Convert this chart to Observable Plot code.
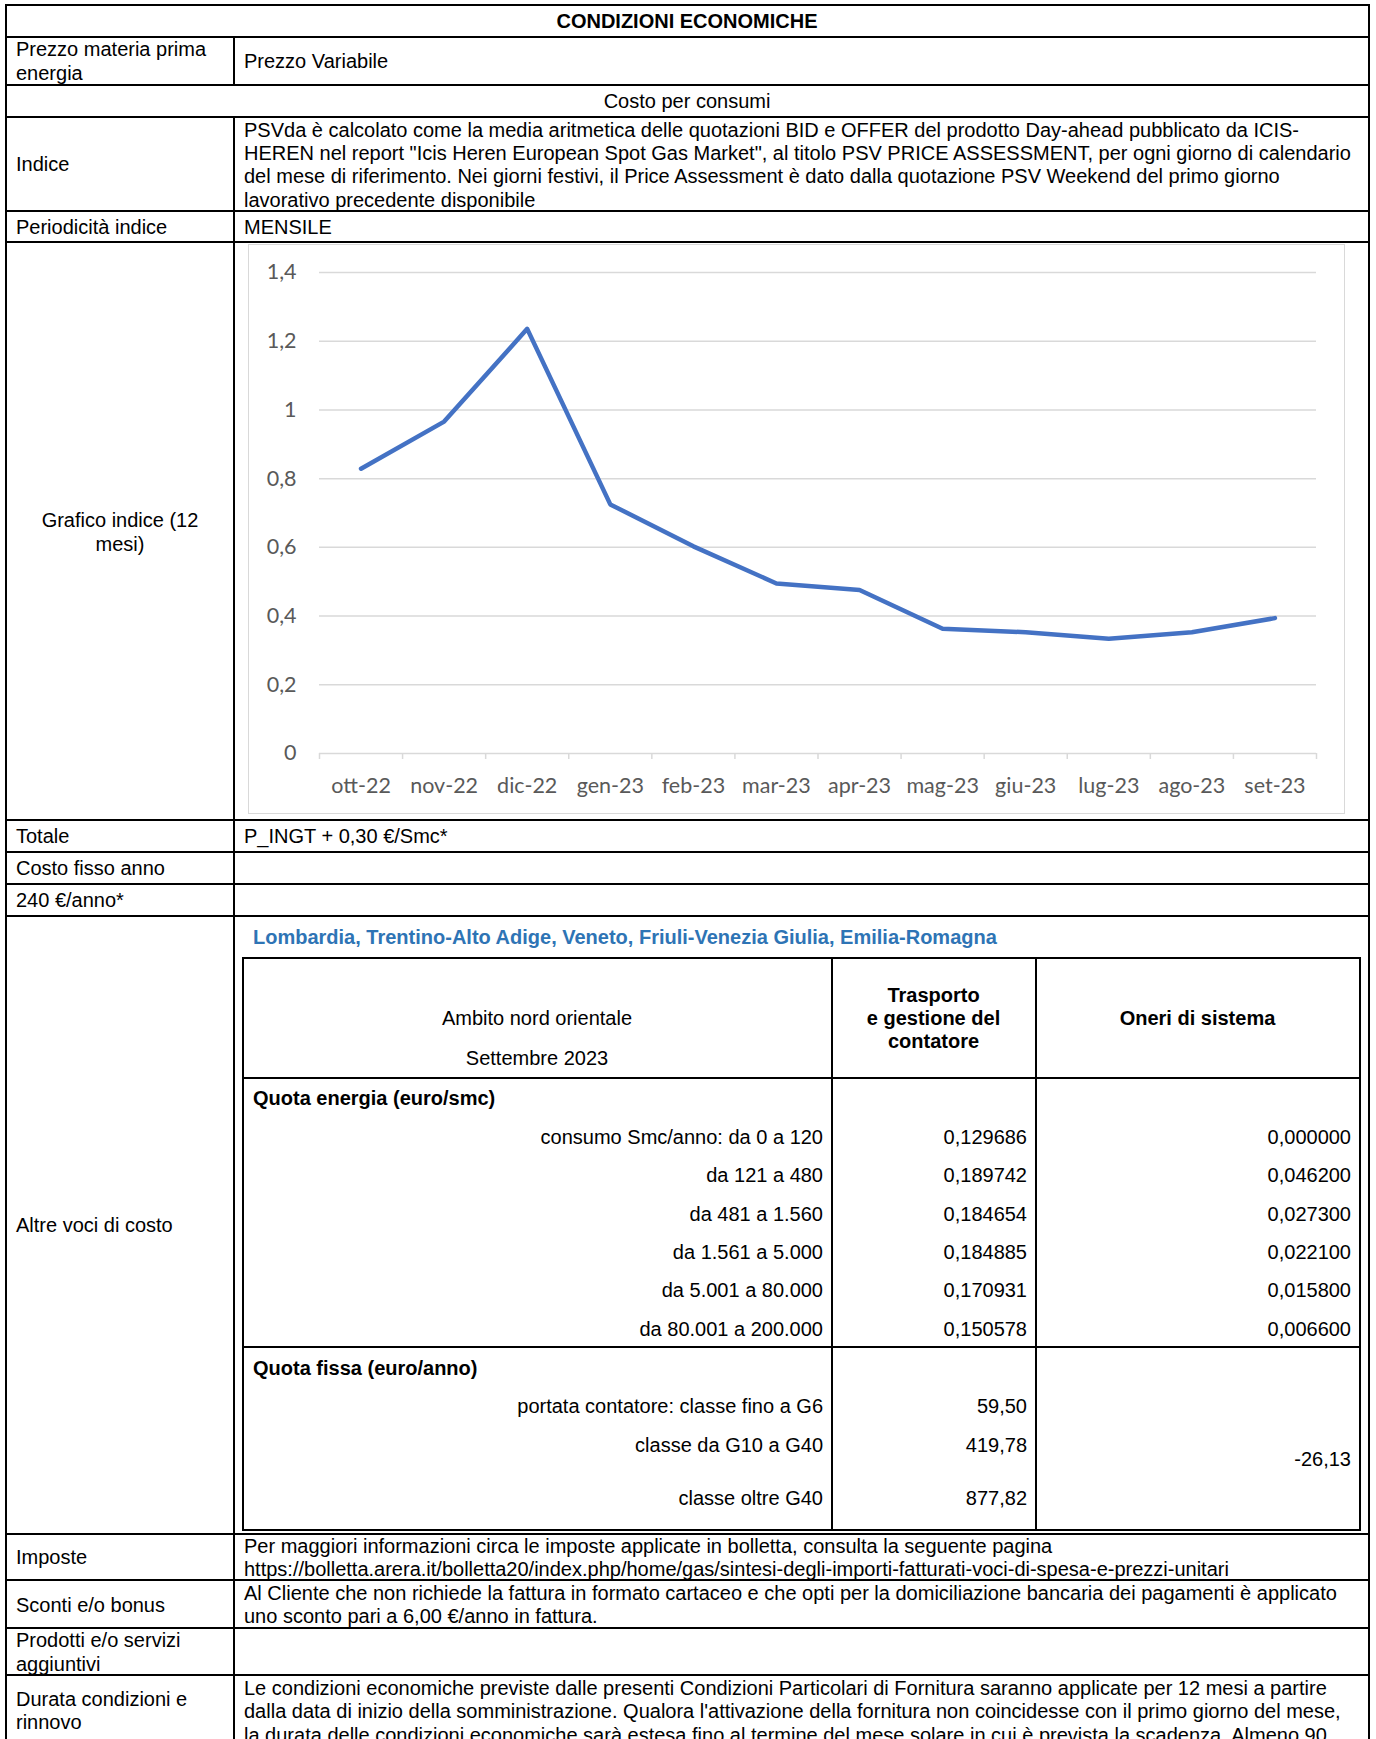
<!DOCTYPE html>
<html><head><meta charset="utf-8">
<script src="https://cdn.jsdelivr.net/npm/d3@7"></script>
<script src="https://cdn.jsdelivr.net/npm/@observablehq/plot@0.6"></script>
<style>
html,body{margin:0;padding:0;background:#fff;}
body{width:1376px;height:1739px;overflow:hidden;position:relative;font-family:"Liberation Sans",Arial,sans-serif;font-size:20px;color:#000;}
.t{position:absolute;white-space:pre;line-height:23px;height:23px;}
.b{font-weight:bold;}
.ln{position:absolute;background:#000;}
#chart{position:absolute;box-sizing:border-box;border:1px solid #d9d9d9;background:#fff;}
#chart svg{display:block;}
</style></head><body>
<div id="chart"></div>
<script>
// ---------- chart data ----------
const months = ["ott-22","nov-22","dic-22","gen-23","feb-23","mar-23","apr-23","mag-23","giu-23","lug-23","ago-23","set-23"];
const psvValues = [0.829, 0.966, 1.236, 0.725, 0.603, 0.495, 0.476, 0.363, 0.353, 0.334, 0.353, 0.394];
const yTicks = [0, 0.2, 0.4, 0.6, 0.8, 1, 1.2, 1.4];

// ---------- table data ----------
const tierLabels = ["consumo Smc/anno: da 0 a 120","da 121 a 480","da 481 a 1.560","da 1.561 a 5.000","da 5.001 a 80.000","da 80.001 a 200.000"];
const trasportoEnergia = ["0,129686","0,189742","0,184654","0,184885","0,170931","0,150578"];
const oneriEnergia = ["0,000000","0,046200","0,027300","0,022100","0,015800","0,006600"];
const classLabels = ["portata contatore: classe fino a G6","classe da G10 a G40","classe oltre G40"];
const trasportoFissa = ["59,50","419,78","877,82"];
const oneriFissa = "-26,13";
const indiceLines = [
  "PSVda è calcolato come la media aritmetica delle quotazioni BID e OFFER del prodotto Day-ahead pubblicato da ICIS-",
  "HEREN nel report \"Icis Heren European Spot Gas Market\", al titolo PSV PRICE ASSESSMENT, per ogni giorno di calendario",
  "del mese di riferimento. Nei giorni festivi, il Price Assessment è dato dalla quotazione PSV Weekend del primo giorno",
  "lavorativo precedente disponibile"
];
const imposteLines = [
  "Per maggiori informazioni circa le imposte applicate in bolletta, consulta la seguente pagina",
  "https://bolletta.arera.it/bolletta20/index.php/home/gas/sintesi-degli-importi-fatturati-voci-di-spesa-e-prezzi-unitari"
];
const scontiLines = [
  "Al Cliente che non richiede la fattura in formato cartaceo e che opti per la domiciliazione bancaria dei pagamenti è applicato",
  "uno sconto pari a 6,00 €/anno in fattura."
];
const durataLines = [
  "Le condizioni economiche previste dalle presenti Condizioni Particolari di Fornitura saranno applicate per 12 mesi a partire",
  "dalla data di inizio della somministrazione. Qualora l'attivazione della fornitura non coincidesse con il primo giorno del mese,",
  "la durata delle condizioni economiche sarà estesa fino al termine del mese solare in cui è prevista la scadenza. Almeno 90"
];

// ---------- helpers ----------
const body = document.body;
const TEXT_SHIFT = 0.8;
function txt(s, x, y, o = {}) {
  const d = document.createElement("div");
  d.className = "t" + (o.bold ? " b" : "");
  d.textContent = s;
  d.style.top = (y - 11.5 + TEXT_SHIFT) + "px";
  d.style.left = x + "px";
  if (o.align === "right") d.style.transform = "translateX(-100%)";
  if (o.align === "center") d.style.transform = "translateX(-50%)";
  if (o.color) d.style.color = o.color;
  body.appendChild(d);
}
function lines(arr, x, y0, o = {}) { arr.forEach((s, i) => txt(s, x, y0 + i * 23.3, o)); }
function hl(y, x1, x2, w = 2) {
  const d = document.createElement("div"); d.className = "ln";
  d.style.left = x1 + "px"; d.style.width = (x2 - x1) + "px";
  d.style.top = (y - w / 2) + "px"; d.style.height = w + "px"; body.appendChild(d);
}
function vl(x, y1, y2, w = 2) {
  const d = document.createElement("div"); d.className = "ln";
  d.style.top = y1 + "px"; d.style.height = (y2 - y1) + "px";
  d.style.left = (x - w / 2) + "px"; d.style.width = w + "px"; body.appendChild(d);
}

// ---------- outer table grid ----------
const L = 5.5, R = 1368.5, D = 233.5;
[5, 37, 84.5, 116.5, 210.5, 241.5, 820, 851.5, 883.5, 915.5, 1533.5, 1580, 1627.5, 1674.5].forEach(y => hl(y, L - 1, R + 1));
vl(L, 4, 1739); vl(R, 4, 1739);
vl(D, 37, 84.5); vl(D, 116.5, 1739);

// ---------- texts ----------
const LX = 16, RX = 244;
txt("CONDIZIONI ECONOMICHE", 687, 21, {align: "center", bold: true});
txt("Prezzo materia prima", LX, 49); txt("energia", LX, 72.3);
txt("Prezzo Variabile", RX, 61);
txt("Costo per consumi", 687, 101, {align: "center"});
txt("Indice", LX, 164);
lines(indiceLines, RX, 129.5);
txt("Periodicità indice", LX, 226.5); txt("MENSILE", RX, 226.5);
txt("Grafico indice (12", 120, 520, {align: "center"});
txt("mesi)", 120, 543.3, {align: "center"});
txt("Totale", LX, 836); txt("P_INGT + 0,30 €/Smc*", RX, 836);
txt("Costo fisso anno", LX, 867.5);
txt("240 €/anno*", LX, 899.5);
txt("Altre voci di costo", LX, 1225);
txt("Imposte", LX, 1557); lines(imposteLines, RX, 1545.7);
txt("Sconti e/o bonus", LX, 1604.4); lines(scontiLines, RX, 1592.2);
txt("Prodotti e/o servizi", LX, 1640); txt("aggiuntivi", LX, 1663.3);
txt("Durata condizioni e", LX, 1698.7); txt("rinnovo", LX, 1722);
lines(durataLines, RX, 1687.6);

// ---------- inner table ----------
txt("Lombardia, Trentino-Alto Adige, Veneto, Friuli-Venezia Giulia, Emilia-Romagna", 253, 937, {bold: true, color: "#2E74B5"});
const IL = 242.5, IR = 1359.5, IT = 958, IB = 1530, C1 = 831.5, C2 = 1035.5;
hl(IT, IL - 1, IR + 1); hl(IB, IL - 1, IR + 1); hl(1078, IL, IR); hl(1347, IL, IR);
vl(IL, IT - 1, IB + 1); vl(IR, IT - 1, IB + 1); vl(C1, IT, IB); vl(C2, IT, IB);
txt("Ambito nord orientale", (IL + C1) / 2, 1018, {align: "center"});
txt("Settembre 2023", (IL + C1) / 2, 1058, {align: "center"});
txt("Trasporto", (C1 + C2) / 2, 995, {align: "center", bold: true});
txt("e gestione del", (C1 + C2) / 2, 1018, {align: "center", bold: true});
txt("contatore", (C1 + C2) / 2, 1041, {align: "center", bold: true});
txt("Oneri di sistema", (C2 + IR) / 2, 1018, {align: "center", bold: true});
txt("Quota energia (euro/smc)", 253, 1097.7, {bold: true});
tierLabels.forEach((s, i) => {
  const y = 1136.5 + i * 38.35;
  txt(s, 823, y, {align: "right"});
  txt(trasportoEnergia[i], 1027, y, {align: "right"});
  txt(oneriEnergia[i], 1351, y, {align: "right"});
});
txt("Quota fissa (euro/anno)", 253, 1367.2, {bold: true});
[1406, 1444.8, 1498].forEach((y, i) => {
  txt(classLabels[i], 823, y, {align: "right"});
  txt(trasportoFissa[i], 1027, y, {align: "right"});
});
txt(oneriFissa, 1351, 1459, {align: "right"});

// ---------- chart ----------
const chartBox = document.getElementById("chart");
chartBox.style.left = "248px"; chartBox.style.top = "244px";
chartBox.style.width = "1097px"; chartBox.style.height = "570px";
const data = months.map((m, i) => ({pos: i + 0.5, month: m, value: psvValues[i]}));
const boundaries = d3.range(months.length + 1);
const centers = data.map(d => d.pos);
const plot = Plot.plot({
  width: 1095, height: 568,
  marginLeft: 70, marginRight: 28, marginTop: 27, marginBottom: 60,
  style: {fontFamily: "Lato, 'Open Sans', sans-serif", fontSize: "21.5px", background: "#fff", overflow: "visible"},
  x: {domain: [0, months.length], axis: null, label: null},
  y: {domain: [0, 1.4], axis: null, label: null},
  marks: [
    Plot.gridY(yTicks, {stroke: "#d9d9d9", strokeOpacity: 1, strokeWidth: 1.5}),
    Plot.axisX(boundaries, {tickSize: 6, tickFormat: () => "", label: null, stroke: "#d9d9d9", strokeWidth: 1.5, strokeOpacity: 1}),
    Plot.axisX(centers, {tickSize: 0, tickPadding: 24, label: null, tickFormat: d => months[Math.floor(d)], color: "#595959", fontSize: 21.5}),
    Plot.axisY(yTicks, {tickSize: 0, tickPadding: 23, label: null, tickFormat: d => String(d).replace(".", ","), color: "#595959", fontSize: 21.5}),
    Plot.line(data, {x: "pos", y: "value", stroke: "#4472C4", strokeWidth: 4.5, strokeLinejoin: "round", strokeLinecap: "round"})
  ]
});
chartBox.appendChild(plot);
</script>
</body></html>
